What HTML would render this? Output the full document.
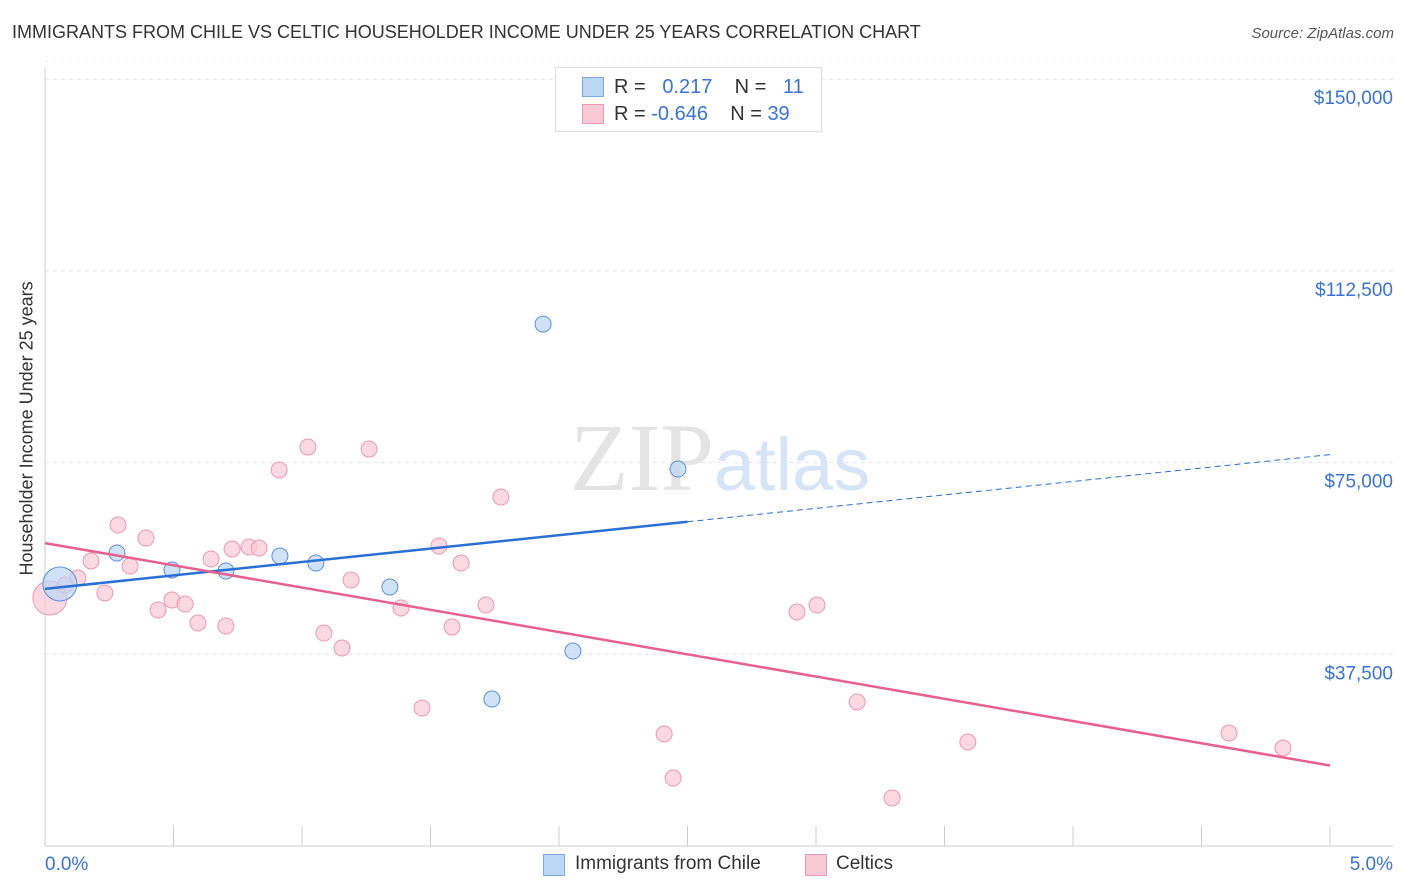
<!DOCTYPE html>
<html><head><meta charset="utf-8"><style>
body{margin:0;background:#fff;font-family:"Liberation Sans",sans-serif;}
#wrap{position:relative;width:1406px;height:892px;overflow:hidden;}
.t{position:absolute;white-space:nowrap;}
</style></head><body>
<div id="wrap">
<div class="t" style="left:12px;top:22px;font-size:18px;color:#333;">IMMIGRANTS FROM CHILE VS CELTIC HOUSEHOLDER INCOME UNDER 25 YEARS CORRELATION CHART</div>
<div class="t" style="right:12px;top:25px;font-size:15px;color:#555;font-style:italic;">Source: ZipAtlas.com</div>
<svg id="svg" width="1406" height="892" style="position:absolute;left:0;top:0"></svg>
<div class="t" style="left:-93px;top:445px;font-size:18px;color:#333;transform:rotate(-90deg);width:240px;text-align:center;">Householder Income Under 25 years</div>
<div style="position:absolute;left:555px;top:67px;width:265px;height:63px;border:1px solid #ddd;background:#fff;">
 <div style="position:absolute;left:26px;top:9px;width:20px;height:18px;background:#bcd6f5;border:1px solid #7aa8e0;"></div>
 <div class="t" style="left:58px;top:8px;font-size:20px;color:#333;">R = &nbsp;&nbsp;<span style="color:#3b73d1">0.217</span>&nbsp;&nbsp;&nbsp; N = &nbsp;&nbsp;<span style="color:#3b73d1">11</span></div>
 <div style="position:absolute;left:26px;top:36px;width:20px;height:18px;background:#f9c8d6;border:1px solid #ea9ab2;"></div>
 <div class="t" style="left:58px;top:35px;font-size:20px;color:#333;">R = <span style="color:#3b73d1">-0.646</span>&nbsp;&nbsp;&nbsp; N = <span style="color:#3b73d1">39</span></div>
</div>
<div style="position:absolute;left:543px;top:854px;width:20px;height:20px;background:#bcd6f5;border:1px solid #7aa8e0;"></div>
<div class="t" style="left:575px;top:853px;font-size:19px;color:#333;">Immigrants from Chile</div>
<div style="position:absolute;left:805px;top:854px;width:20px;height:20px;background:#f9c8d6;border:1px solid #ea9ab2;"></div>
<div class="t" style="left:836px;top:853px;font-size:19px;color:#333;">Celtics</div>
</div>
<script>
const yTicks=[37500,75000,112500,150000];
const yTickLabels=["$37,500","$75,000","$112,500","$150,000"];
const xTickLabels=["0.0%","5.0%"];
const chileX=[0.058,0.28,0.494,0.704,0.914,1.054,1.342,1.739,1.938,2.054,2.463];
const chileY=[51250,57310,53990,53790,56720,55350,50660,28750,102100,38140,73740];
const celticX=[0.019,0.078,0.128,0.179,0.233,0.284,0.331,0.393,0.44,0.494,0.545,0.595,0.646,0.704,0.728,0.794,0.833,0.911,1.023,1.085,1.156,1.191,1.261,1.385,1.467,1.533,1.584,1.619,1.716,1.774,2.409,2.444,2.926,3.004,3.16,3.296,3.591,4.607,4.817];
const celticY=[48510,51050,52420,55750,49490,62790,54770,60240,46160,48120,47330,43620,56140,43030,58090,58480,58290,73550,78040,41660,38730,52030,77650,46550,26990,58680,42840,55350,47140,68260,21910,13300,45770,47140,28170,9390,20340,22100,19170];

const NS="http://www.w3.org/2000/svg";
const svg=document.getElementById('svg');
const X0=45,X1=1330,Y0=846,YPX=191.7/37500;
const sx=v=>X0+(v/5)*(X1-X0);
const sy=v=>Y0-v*YPX;
function mk(tag,attrs){const e=document.createElementNS(NS,tag);for(const k in attrs)e.setAttribute(k,attrs[k]);svg.appendChild(e);return e;}
function txt(x,y,s,anchor,name){const e=mk('text',{x:x,y:y,'font-size':19,fill:'#3b73d1','text-anchor':anchor,'font-family':'Liberation Sans, sans-serif'});e.textContent=s;

return e;}
yTicks.forEach((v,i)=>{const l=mk('line',{x1:X0,x2:1393,y1:sy(v),y2:sy(v),stroke:'#e2e2e2','stroke-dasharray':'4,4'});


txt(1393,sy(v)+25,yTickLabels[i],'end','y-tick-label');});
const topLine=mk('line',{x1:X0,x2:1393,y1:sy(150000)-18,y2:sy(150000)-18,stroke:'#eee','stroke-dasharray':'4,4'});


const ax=mk('line',{x1:X0,x2:X0,y1:68,y2:Y0,stroke:'#ccc'});


const bx=mk('line',{x1:X0,x2:1393,y1:Y0,y2:Y0,stroke:'#ccc'});


for(let i=0;i<=10;i++){const t=mk('line',{x1:sx(i*0.5),x2:sx(i*0.5),y1:826,y2:Y0,stroke:'#ccc'});

}
txt(45,870,xTickLabels[0],'start','x-tick-label');
txt(1393,870,xTickLabels[1],'end','x-tick-label');
const w=mk('text',{x:720,y:490,'font-size':96,'text-anchor':'middle','font-family':'Liberation Serif, serif',fill:'#e4e4e4'});
w.innerHTML='<tspan>ZIP</tspan><tspan font-family="Liberation Sans, sans-serif" font-size="74" fill="#d6e4f5">atlas</tspan>';


function reg(xs,ys){const n=xs.length;let mx=0,my=0;for(let i=0;i<n;i++){mx+=xs[i];my+=ys[i];}mx/=n;my/=n;let a=0,b=0;for(let i=0;i<n;i++){a+=(xs[i]-mx)*(ys[i]-my);b+=(xs[i]-mx)**2;}const s=a/b;return [my-s*mx,s];}
function pts(xs,ys,fill,stroke,name,bigIdx){xs.forEach((x,i)=>{const c=mk('circle',{cx:sx(x),cy:sy(ys[i]),r:i===bigIdx?17:8,fill:fill,stroke:stroke,'stroke-width':1,'fill-opacity':0.7});

});}
pts(celticX,celticY,'#f9c8d6','#e79ab2','point-celtics',0);
pts(chileX,chileY,'#bcd6f5','#5b8fd8','point-chile',0);
const [cb,cs]=reg(chileX,chileY);
const l1=mk('line',{x1:sx(0),y1:sy(cb),x2:sx(2.5),y2:sy(cb+cs*2.5),stroke:'#2a6fd6','stroke-width':2.5});


const l2=mk('line',{x1:sx(2.5),y1:sy(cb+cs*2.5),x2:sx(5),y2:sy(cb+cs*5),stroke:'#2a6fd6','stroke-width':1,'stroke-dasharray':'6,4'});


const [pb,ps]=reg(celticX,celticY);
const l3=mk('line',{x1:sx(0),y1:sy(pb),x2:sx(5),y2:sy(pb+ps*5),stroke:'#e8608f','stroke-width':2.5});


</script>
</body></html>
